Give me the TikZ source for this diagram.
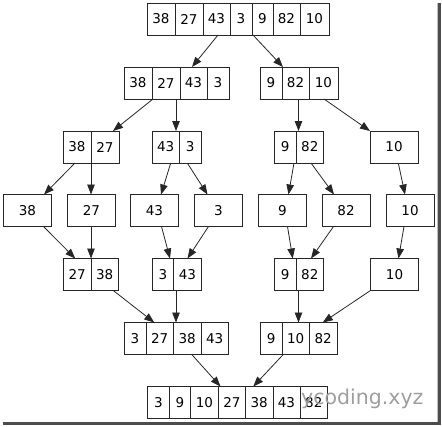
\documentclass[tikz,border=0pt]{standalone}
\usepackage{fontspec}
\setmainfont{DejaVu Sans}
\usetikzlibrary{arrows.meta}
\tikzset{
  cell/.style={draw=black!85, line width=0.9pt, minimum height=32pt, inner sep=0pt, outer sep=0pt, anchor=north west, font=\fontsize{13.5}{14}\selectfont},
  arr/.style={draw=black!85, line width=0.8pt, -{Triangle[length=10pt,width=7.5pt]}},
}
% \cellat{name}{x}{y}{width}{text}
\newcommand{\cellat}[5]{\node[cell, minimum width=#4pt] (#1) at (#2,#3) {#5};}
\begin{document}
\begin{tikzpicture}[x=1pt,y=-1pt]
\useasboundingbox (0,0) rectangle (442,426);
% shadow frame
\fill[black!25] (436.5,3) rectangle (438,423);
\fill[black!70] (438,3) rectangle (441,425);
\fill[black!70] (3,421.5) rectangle (441,424.5);
% row 1
\cellat{a1}{147}{3}{28}{38}
\cellat{a2}{175}{3}{28}{27}
\cellat{a3}{203}{3}{27}{43}
\cellat{a4}{230}{3}{22}{3}
\cellat{a5}{252}{3}{21}{9}
\cellat{a6}{273}{3}{27}{82}
\cellat{a7}{300}{3}{29}{10}
% row 2
\cellat{b1}{124}{67}{28}{38}
\cellat{b2}{152}{67}{28}{27}
\cellat{b3}{180}{67}{27}{43}
\cellat{b4}{207}{67}{22}{3}
\cellat{b5}{260}{67}{22}{9}
\cellat{b6}{282}{67}{27}{82}
\cellat{b7}{309}{67}{29}{10}
% row 3
\cellat{c1}{63}{131}{28}{38}
\cellat{c2}{91}{131}{28}{27}
\cellat{c3}{152}{131}{27.5}{43}
\cellat{c4}{179.5}{131}{21.5}{3}
\cellat{c5}{274.5}{131}{21.5}{9}
\cellat{c6}{296}{131}{27.5}{82}
\cellat{c7}{370}{131}{48}{10}
% row 4
\cellat{d1}{3.5}{194.5}{48}{38}
\cellat{d2}{67.5}{194.5}{48}{27}
\cellat{d3}{130.5}{194.5}{48}{43}
\cellat{d4}{194.5}{194.5}{48}{3}
\cellat{d5}{258.5}{194.5}{48}{9}
\cellat{d6}{322}{194.5}{48}{82}
\cellat{d7}{386}{194.5}{48}{10}
% row 5
\cellat{e1}{63.5}{258.5}{27.5}{27}
\cellat{e2}{91}{258.5}{27.5}{38}
\cellat{e3}{152.5}{258.5}{21}{3}
\cellat{e4}{173.5}{258.5}{28}{43}
\cellat{e5}{274.5}{258.5}{21.5}{9}
\cellat{e6}{296}{258.5}{27.5}{82}
\cellat{e7}{370.5}{258.5}{48}{10}
% row 6
\cellat{f1}{124}{322.5}{22}{3}
\cellat{f2}{146}{322.5}{27.5}{27}
\cellat{f3}{173.5}{322.5}{27.5}{38}
\cellat{f4}{201}{322.5}{27.5}{43}
\cellat{f5}{260.5}{322.5}{21.5}{9}
\cellat{f6}{282}{322.5}{27.5}{10}
\cellat{f7}{309.5}{322.5}{27.5}{82}
% row 7
\cellat{g1}{147.5}{386.5}{22}{3}
\cellat{g2}{169.5}{386.5}{21}{9}
\cellat{g3}{190.5}{386.5}{28}{10}
\cellat{g4}{218.5}{386.5}{27}{27}
\cellat{g5}{245.5}{386.5}{27.5}{38}
\cellat{g6}{273}{386.5}{27}{43}
\cellat{g7}{300}{386.5}{27.5}{82}
% edges
\draw[arr] ([xshift=1.5pt]a3.south) -- ([xshift=-1.5pt]b3.north);
\draw[arr] ([xshift=-9.5pt]a5.south) -- ([xshift=-12.5pt]b6.north);
\draw[arr] ([xshift=-13pt]b2.south) -- ([xshift=8pt]c2.north);
\draw[arr] ([xshift=10pt]b2.south) -- ([xshift=10.25pt]c3.north);
\draw[arr] ([xshift=3pt]b6.south) -- ([xshift=-11.25pt]c6.north);
\draw[arr] ([xshift=0.5pt]b7.south) -- ([xshift=-24pt]c7.north);
\draw[arr] ([xshift=-2pt]c1.south) -- ([xshift=16.5pt]d1.north);
\draw[arr] (c2.south west) -- ([xshift=-0.5pt]d2.north);
\draw[arr] ([xshift=5pt]c3.south) -- ([xshift=6.5pt]d3.north);
\draw[arr] ([xshift=-3pt]c4.south) -- ([xshift=-11pt]d4.north);
\draw[arr] ([xshift=8.75pt]c5.south) -- ([xshift=6pt]d5.north);
\draw[arr] ([xshift=1.25pt]c6.south) -- ([xshift=-12pt]d6.north);
\draw[arr] ([xshift=4.3pt]c7.south) -- ([xshift=-5pt]d7.north);
\draw[arr] ([xshift=16pt]d1.south) -- ([xshift=-2pt]e1.north);
\draw[arr] ([xshift=-0.5pt]d2.south) -- ([xshift=-13.75pt]e2.north);
\draw[arr] ([xshift=7pt]d3.south) -- ([xshift=7pt]e3.north);
\draw[arr] ([xshift=-10pt]d4.south) -- (e4.north);
\draw[arr] ([xshift=5pt]d5.south) -- ([xshift=7.5pt]e5.north);
\draw[arr] ([xshift=-12.5pt]d6.south) -- ([xshift=1.25pt]e6.north);
\draw[arr] ([xshift=-6pt]d7.south) -- ([xshift=4pt]e7.north);
\draw[arr] ([xshift=8.5pt]e2.south) -- ([xshift=-5.5pt]f2.north);
\draw[arr] ([xshift=-11.5pt]e4.south) -- ([xshift=-11.25pt]f3.north);
\draw[arr] ([xshift=-11.25pt]e6.south) -- ([xshift=2.75pt]f6.north);
\draw[arr] ([xshift=-24pt]e7.south) -- ([xshift=-0.5pt]f7.north);
\draw[arr] ([xshift=4.5pt]f3.south) -- ([xshift=-11.5pt]g4.north);
\draw[arr] ([xshift=-12.5pt]f6.south) -- ([xshift=-6pt]g5.north);
% watermark
\node[anchor=base west, inner sep=0pt, text=black!38, font=\fontsize{20.5}{22}\selectfont] (wm) at (301,404) {ycoding.xyz};
\end{tikzpicture}
\end{document}
